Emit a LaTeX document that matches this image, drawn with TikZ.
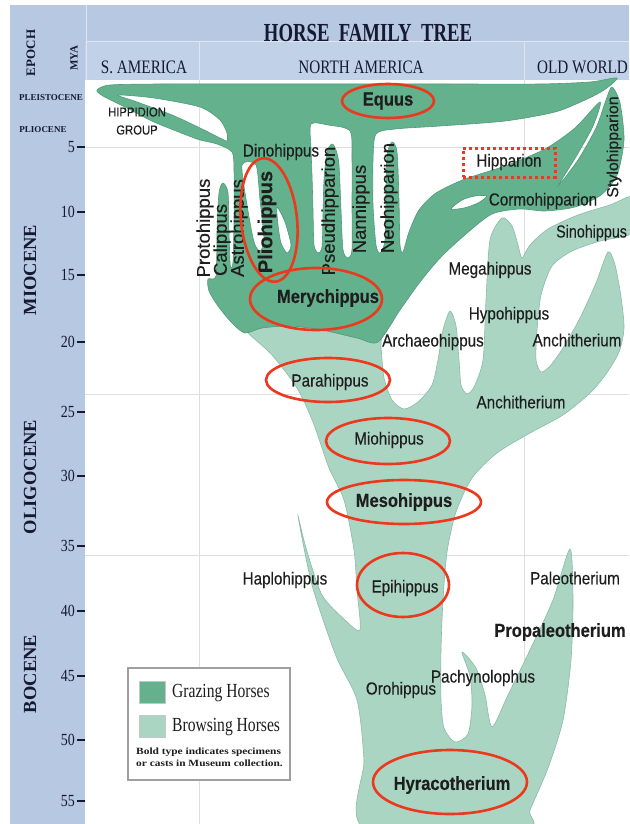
\documentclass[tikz,border=0pt]{standalone}
\usepackage{fontspec}
\setmainfont{Liberation Serif}
\newfontfamily\labfont[FakeBold=0.3]{Liberation Sans}
\usetikzlibrary{shapes.geometric}
\definecolor{graze}{RGB}{99,177,141}
\definecolor{grazeedge}{RGB}{80,155,122}
\definecolor{browse}{RGB}{171,213,195}
\definecolor{browseedge}{RGB}{140,186,168}
\definecolor{bandc}{RGB}{183,200,226}
\definecolor{bandl}{RGB}{193,209,232}
\definecolor{gridc}{RGB}{222,222,222}
\definecolor{redc}{RGB}{236,56,28}
\definecolor{lbl}{RGB}{30,30,30}
\definecolor{hdr}{RGB}{22,26,48}
\tikzset{
  sp/.style={font=\labfont\fontsize{17.5}{18}\selectfont, xscale=0.87, inner sep=0pt, text=lbl},
  spb/.style={font=\labfont\bfseries\fontsize{19}{19}\selectfont, xscale=0.87, inner sep=0pt, text=lbl},
  vsp/.style={font=\labfont\fontsize{18.5}{19}\selectfont, rotate=90, inner sep=0pt, text=lbl},
  vspb/.style={font=\labfont\bfseries\fontsize{20}{20}\selectfont, rotate=90, inner sep=0pt, text=lbl},
  ring/.style={ellipse, draw=redc, line width=2.6pt, inner sep=0pt},
  epochlab/.style={font=\bfseries\fontsize{18.5}{19}\selectfont, rotate=90, inner sep=0pt, text=hdr},
  smallep/.style={font=\bfseries\fontsize{9}{9}\selectfont, inner sep=0pt, text=hdr},
  ticklab/.style={font=\fontsize{17}{17}\selectfont, xscale=0.82, inner sep=0pt, anchor=east, text=hdr},
  colhead/.style={font=\fontsize{19}{19}\selectfont, xscale=0.8, inner sep=0pt, text=hdr},
  gridline/.style={gridc, line width=1pt},
  tickline/.style={hdr, line width=1.1pt},
  legtext/.style={font=\fontsize{20}{20}\selectfont, xscale=0.78, inner sep=0pt, anchor=west, text=lbl},
  legsmall/.style={font=\bfseries\fontsize{9.5}{10}\selectfont, xscale=1.2, inner sep=0pt, anchor=west, text=lbl},
}
\begin{document}
\begin{tikzpicture}[x=1pt,y=-1pt]
\useasboundingbox (0,0) rectangle (629,824);
\fill[white] (0,0) rectangle (629,824);
% axis band and header
\fill[bandc] (10,5) rectangle (85,824);
\fill[bandc] (85,5) rectangle (629,42);
\fill[bandl] (85,42) rectangle (629,80);
\draw[white!55!bandc, line width=1pt] (86,5) -- (86,80);
\draw[white!55!bandc, line width=1pt] (86,42) -- (629,42);
\draw[white!55!bandc, line width=1pt] (199,42) -- (199,80);
\draw[white!55!bandc, line width=1pt] (524,42) -- (524,80);
% grid
\draw[gridline] (199,80) -- (199,824);
\draw[gridline] (524,80) -- (524,824);
\draw[gridline] (85,147) -- (629,147);
\draw[gridline] (85,394) -- (629,394);
\draw[gridline] (85,555) -- (629,555);

% browsing horses (light)
\filldraw[browse, draw=browseedge, line width=0.6pt] plot[smooth cycle, tension=0.45] coordinates {
(365,828) (364,760) (357,700) (336,656) (312,585) (298,516) (306,548) (322,595) (345,620) (360,630)
(357,590) (354,550) (344,500) (329,468) (313,422) (297,388) (272,355) (248,333) (236,318)
(260,305) (330,305) (378,322) (381,348) (384,378) (392,400) (404,409) (418,402) (432,385)
(438,360) (443,330) (450,311) (456,326) (459,360) (461,385) (467,394) (474,387) (483,360)
(486,300) (490,240) (502,218) (512,226) (518,245) (522,258) (530,245) (548,229) (578,215)
(610,205) (634,197) (634,232) (600,241) (572,251) (552,266) (541,295) (537,330) (536,360)
(541,372) (550,366) (563,348) (580,318) (596,283) (608,252) (615,265) (621,297) (624,328)
(619,352) (606,374) (590,393) (563,415) (530,433) (497,453) (472,478) (456,512) (447,552)
(443,600) (441,650) (441,700) (444,728) (455,742) (468,734) (472,705) (470,676) (462,652)
(476,668) (485,695) (492,727) (508,695) (530,650) (553,600) (570,549) (573,600) (571,660)
(563,720) (548,768) (530,810) (524,828)};

% grazing horses (dark) with holes
\filldraw[graze, draw=grazeedge, line width=0.6pt, even odd rule]
plot[smooth cycle, tension=0.45] coordinates {
(97,90) (110,85) (160,84) (250,84) (350,84) (450,84) (540,84) (590,82) (617,78)
(604,90) (585,100) (555,112) (505,121) (440,126) (395,129) (376,134) (373,160) (373,205)
(376,245) (380,253) (385,240) (386,190) (387,155) (392,142) (397,152) (399,200) (400,245)
(403,252) (409,232) (419,210) (436,193) (465,179) (505,166) (545,149) (575,128) (600,102)
(593,126) (577,155) (558,186) (578,160) (596,128) (606,100) (612,87) (620,103) (624,140)
(617,175) (601,195) (575,207) (545,211) (520,209) (492,214) (466,234) (441,257) (420,282)
(400,310) (378,342) (357,338) (322,330) (290,326) (262,328) (245,333) (232,323) (218,306)
(209,291) (208,279) (216,276) (217,232) (219,193) (223,183) (228,193) (229,232) (230,262)
(231,268) (233,262) (234,220) (234,170) (232,152) (217,144) (200,140) (189,136) (154,122)
(127,108) (103,96)}
plot[smooth cycle, tension=0.45] coordinates {
(118,95) (154,98) (200,107) (220,120) (227,133) (227,141) (222,139) (200,128) (172,115) (137,102)}
plot[smooth cycle, tension=0.45] coordinates {
(242,165) (256,165) (260,200) (264,240) (260,251) (254,242) (247,205)}
plot[smooth cycle, tension=0.45] coordinates {
(277,207) (285,222) (291,245) (287,253) (281,243) (278,225)}
plot[smooth cycle, tension=0.45] coordinates {
(311,124) (328,125) (350,131) (352,160) (352,205) (352,250) (348,258) (343,250) (341,210)
(339,165) (336,150) (332,144) (327,152) (324,180) (323,215) (322,247) (318,253) (314,245)
(313,210) (312,175) (311,148)}
plot[smooth cycle, tension=0.45] coordinates {
(451,209) (462,200) (475,196) (487,196) (478,203) (464,208)};

% header texts
\node[font=\bfseries\fontsize{26}{26}\selectfont, xscale=0.72, inner sep=0pt, text=hdr] (title) at (368,33) {HORSE\hspace{0.5em}FAMILY\hspace{0.5em}TREE};
\node[colhead] (hsa) at (144,67) {S. AMERICA};
\node[colhead] (hna) at (361,67) {NORTH AMERICA};
\node[colhead, anchor=west] (how) at (537,67) {OLD WORLD};
\node[font=\bfseries\fontsize{13}{13}\selectfont, rotate=90, inner sep=0pt, text=hdr] (epoch) at (31,53) {EPOCH};
\node[font=\bfseries\fontsize{11}{11}\selectfont, rotate=90, inner sep=0pt, text=hdr] (mya) at (74,58) {MYA};
\node[smallep] (pleist) at (51,98) {PLEISTOCENE};
\node[smallep] (plio) at (43,130) {PLIOCENE};
\node[epochlab] (mio) at (30,270) {MIOCENE};
\node[epochlab] (oligo) at (30,477) {OLIGOCENE};
\node[epochlab] (eoc) at (30,674) {BOCENE};

% ticks
\foreach \t/\yy in {5/147,10/212,15/275,20/342,25/412,30/476,35/546,40/611,45/676,50/740,55/801}{
  \node[ticklab] (tk\t) at (75,\yy) {\t};
  \draw[tickline] (tk\t.east) ++(2,0) -- (85,\yy);
}

% species labels
\node[sp, font=\labfont\fontsize{13}{13}\selectfont] (hip1) at (137,112) {HIPPIDION};
\node[sp, font=\labfont\fontsize{13}{13}\selectfont] (hip2) at (137,130) {GROUP};
\node[spb] (equus) at (388,101) {Equus};
\node[sp] (dino) at (281,152) {Dinohippus};
\node[sp] (hipparion) at (509,162) {Hipparion};
\node[sp] (cormo) at (543,201) {Cormohipparion};
\node[sp, xscale=0.94, anchor=west] (sino) at (556,233) {Sinohippus};
\node[sp] (mega) at (490,270) {Megahippus};
\node[sp] (hypo) at (509,315) {Hypohippus};
\node[sp] (archaeo) at (433,342) {Archaeohippus};
\node[sp] (anch1) at (577,340) {Anchitherium};
\node[sp] (anch2) at (521,402) {Anchitherium};
\node[spb] (mery) at (328,298) {Merychippus};
\node[sp] (para) at (330,382) {Parahippus};
\node[sp] (mio2) at (389,440) {Miohippus};
\node[spb] (meso) at (404,502) {Mesohippus};
\node[sp] (haplo) at (285,580) {Haplohippus};
\node[sp] (epi) at (405,588) {Epihippus};
\node[sp] (paleo) at (575,578) {Paleotherium};
\node[spb] (propaleo) at (560,632) {Propaleotherium};
\node[sp] (pachy) at (483,678) {Pachynolophus};
\node[sp] (oro) at (401,690) {Orohippus};
\node[spb] (hyraco) at (452,785) {Hyracotherium};
% vertical labels
\node[vsp] (proto) at (205,228) {Protohippus};
\node[vsp] (cali) at (222,240) {Calippus};
\node[vsp] (astro) at (239,228) {Astrohippus};
\node[vspb] (plioh) at (267,222) {Pliohippus};
\node[vsp] (pseud) at (330,211) {Pseudhipparion};
\node[vsp] (nanni) at (361,209) {Nannippus};
\node[vsp] (neohip) at (389,198) {Neohipparion};
\node[vsp, font=\labfont\fontsize{16}{16}\selectfont] (stylo) at (614,147) {Stylohipparion};

% red highlights
\node[ring, minimum width=92pt, minimum height=34pt] (rEquus) at (388,101) {};
\node[ring, minimum width=56pt, minimum height=124pt, rotate=6] (rPlio) at (269,220) {};
\node[ring, minimum width=132pt, minimum height=62pt] (rMery) at (316,299) {};
\node[ring, minimum width=124pt, minimum height=44pt] (rPara) at (328,380) {};
\node[ring, minimum width=124pt, minimum height=46pt] (rMio) at (388,441) {};
\node[ring, minimum width=154pt, minimum height=44pt] (rMeso) at (404,502) {};
\node[ring, minimum width=92pt, minimum height=64pt] (rEpi) at (403,585) {};
\node[ring, minimum width=154pt, minimum height=64pt] (rHyra) at (450,782) {};
\node[draw=redc, line width=3pt, dash pattern=on 3pt off 3pt, minimum width=92pt, minimum height=29pt, inner sep=0pt] (rHipp) at (509,162.5) {};

% legend
\draw[gray!75, fill=white, line width=1.6pt] (128,668) rectangle (290,780);
\filldraw[graze, draw=gray!45, line width=0.6pt] (139,681) rectangle (165,703);
\filldraw[browse, draw=gray!45, line width=0.6pt] (139,715) rectangle (165,737);
\node[legtext] (lg1) at (172,693) {Grazing Horses};
\node[legtext] (lg2) at (172,727) {Browsing Horses};
\node[legsmall] (lg3) at (136,752) {Bold type indicates specimens};
\node[legsmall] (lg4) at (136,763) {or casts in Museum collection.};
\end{tikzpicture}
\end{document}
